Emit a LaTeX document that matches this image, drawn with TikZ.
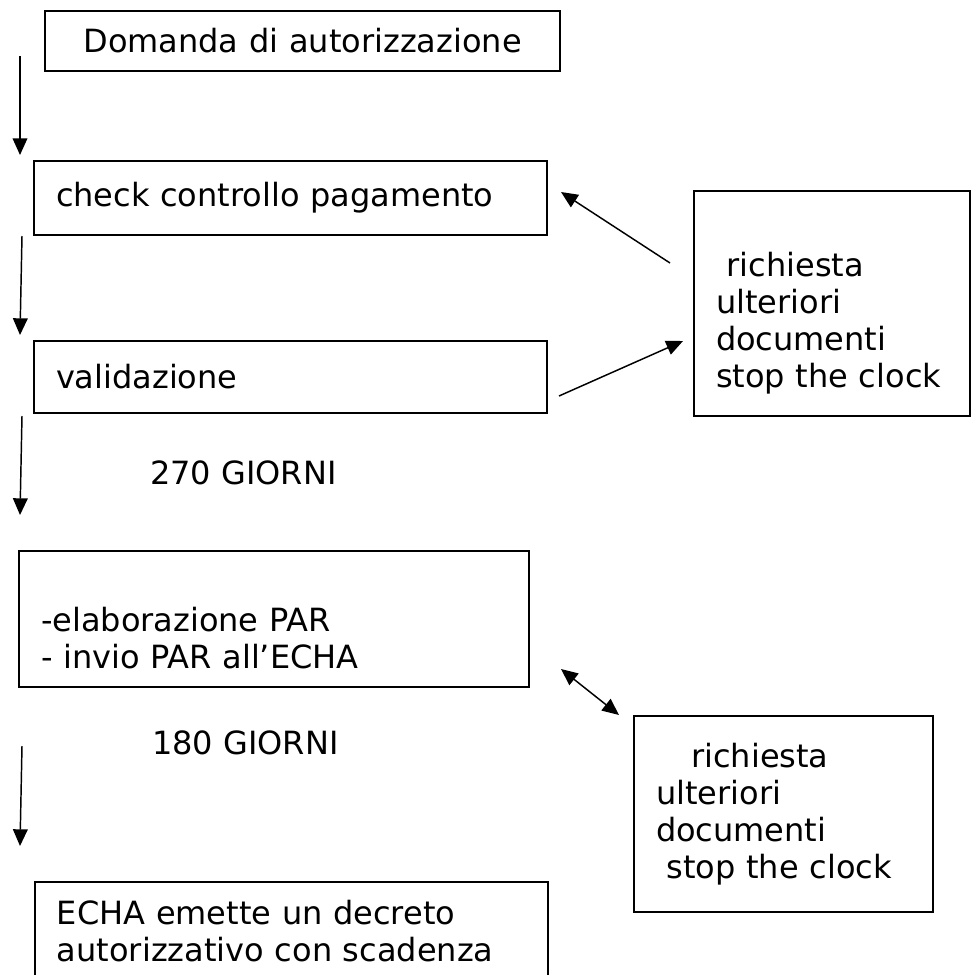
\documentclass[tikz,border=0pt]{standalone}
\usepackage{fontspec}
\setmainfont{DejaVu Sans}
\usetikzlibrary{arrows.meta, positioning, calc}

\begin{document}
\begin{tikzpicture}[
    x=0.75pt, y=-0.75pt,
    font=\fontsize{24pt}{27.75pt}\selectfont,
    stepbox/.style={rectangle, draw=black, line width=1.4pt, align=left, inner xsep=16.5pt, inner ysep=0pt},
    daylabel/.style={anchor=west, inner sep=0pt},
    arrow/.style={-{Triangle[length=12.5pt, width=11pt]}, draw=black, line width=1.1pt},
    twoarrow/.style={{Triangle[length=12.5pt, width=11pt]}-{Triangle[length=12.5pt, width=11pt]}, draw=black, line width=1.1pt}
  ]
  \useasboundingbox (0,0) rectangle (972,975);
  \clip (0,0) rectangle (972,975);

  % Node 1: Domanda
  \node[stepbox, align=center, text width=353.25pt, minimum height=45pt] (domanda) at (302.5,41) {Domanda di autorizzazione};

  % Node 2: check pagamento
  \node[stepbox, text width=351.75pt, minimum height=55.5pt] (check) at (290.5,198) {check controllo pagamento};

  % Node 3: validazione
  \node[stepbox, text width=351.75pt, minimum height=54pt] (valid) at (290.5,377) {validazione};

  % Node 4: elaborazione PAR
  \node[stepbox, text width=349.5pt, minimum height=102pt] (elab) at (274,619) {\strut\\-elaborazione PAR\\- invio PAR all’ECHA};

  % Node 5: decreto (cut by the page)
  \node[stepbox, anchor=north west, inner ysep=13.5pt, text width=351.75pt] (decreto) at (34,881) {ECHA emette un decreto\\autorizzativo con scadenza\\\strut};

  % Side boxes: stop the clock
  \node[stepbox, text width=174pt, minimum height=168.75pt] (rich1) at (832,303.5) {\strut\\~richiesta\\ulteriori\\documenti\\stop the clock};
  \node[stepbox, text width=191.25pt, minimum height=147pt] (rich2) at (783.5,814) {\hspace*{1.1em}richiesta\\ulteriori\\documenti\\~stop the clock};

  % Day labels
  \node[daylabel] (giorni270) at (150,473) {270 GIORNI};
  \node[daylabel] (giorni180) at (152,743) {180 GIORNI};

  % Connections
  \coordinate (a1s) at (20,56);  \coordinate (a1e) at (20,155);
  \coordinate (a2s) at (22,236); \coordinate (a2e) at (20,335);
  \coordinate (a3s) at (22,416); \coordinate (a3e) at (20,515);
  \coordinate (a4s) at (22,746); \coordinate (a4e) at (20,846);
  \draw[arrow] (a1s) -- (a1e);
  \draw[arrow] (a2s) -- (a2e);
  \draw[arrow] (a3s) -- (a3e);
  \draw[arrow] (a4s) -- (a4e);

  \coordinate (backs) at (670,263); \coordinate (backe) at (561,192);
  \coordinate (outs) at (559,396);  \coordinate (oute) at (683,341);
  \draw[arrow] (backs) -- (backe);
  \draw[arrow] (outs) -- (oute);

  \coordinate (parA) at (561,669); \coordinate (parB) at (619,715);
  \draw[twoarrow] (parA) -- (parB);
\end{tikzpicture}
\end{document}
